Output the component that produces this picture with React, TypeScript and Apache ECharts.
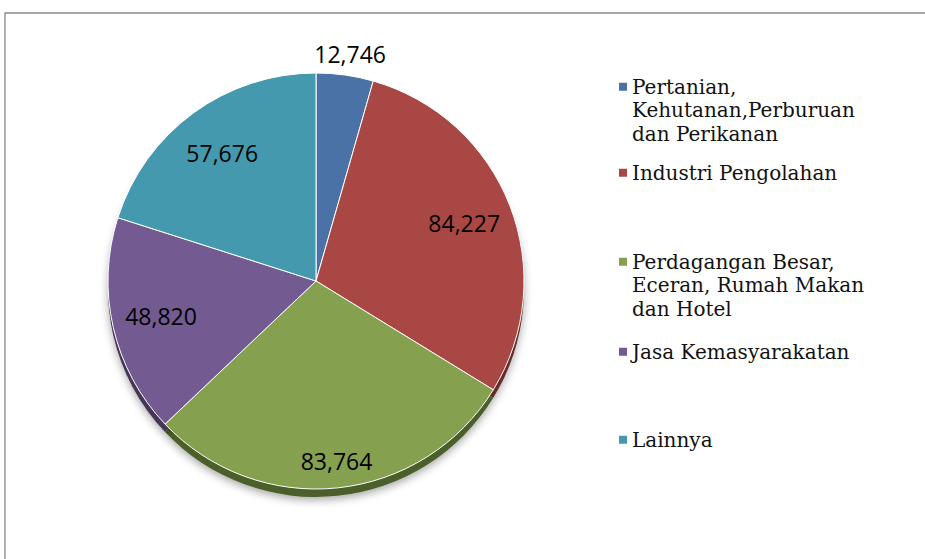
import React, { useEffect, useRef } from "react";
import * as echarts from "echarts";

const categories = [
  "Pertanian,\nKehutanan,Perburuan\ndan Perikanan",
  "Industri Pengolahan",
  "Perdagangan Besar,\nEceran, Rumah Makan\ndan Hotel",
  "Jasa Kemasyarakatan",
  "Lainnya",
];
const values = [12746, 84227, 83764, 48820, 57676];
const colors = ["#4a72a6", "#a94744", "#85a04e", "#735a91", "#4499ae"];
const edgeColors = ["#2c4566", "#682a28", "#4b5e2a", "#463657", "#295d6b"];
const legendTops = [28, 161, 203, 340, 428];

const CX = 316;
const CY = 281;
const R = 208;
const LH = 23.5;

export default function App() {
  const ref = useRef<HTMLDivElement>(null);
  useEffect(() => {
    if (!ref.current) return;
    const chart = echarts.init(ref.current, undefined, { renderer: "svg" });
    const fmt = (p: any) => Number(p.value).toLocaleString("en-US");
    const data = categories.map((name, i) => ({
      name,
      value: values[i],
      itemStyle: { color: colors[i] },
    }));
    const edgeData = categories.map((name, i) => ({
      name,
      value: values[i],
      itemStyle: { color: edgeColors[i] },
    }));
    chart.setOption({
      animation: false,
      backgroundColor: "#ffffff",
      graphic: [
        {
          type: "rect",
          z: -10,
          shape: { x: 5, y: 13, width: 960, height: 600 },
          style: { fill: "none", stroke: "#8a8a8a", lineWidth: 1.3 },
        },
      ],
      legend: categories.map((name, i) => ({
        data: [name],
        orient: "vertical",
        left: 619,
        top: legendTops[i],
        padding: 0,
        itemWidth: 8,
        itemHeight: 8,
        icon: "rect",
        selectedMode: false,
        itemStyle: { borderWidth: 0 },
        formatter: (n: string) => {
          const lines = n.split("\n").length;
          return "\n".repeat(lines - 1) + n;
        },
        textStyle: {
          fontFamily: "DejaVu Serif",
          fontSize: 20,
          lineHeight: LH,
          color: "#111",
        },
      })),
      series: [
        {
          type: "pie",
          name: "main",
          z: 3,
          center: [CX, CY],
          radius: [0, R],
          startAngle: 90,
          silent: true,
          label: { show: false },
          labelLine: { show: false },
          emphasis: { disabled: true },
          itemStyle: { borderColor: "#ffffff", borderWidth: 1 },
          data,
        },
        {
          type: "pie",
          name: "edge",
          z: 1,
          center: [CX, CY + 8],
          radius: [0, R],
          startAngle: 90,
          silent: true,
          label: { show: false },
          labelLine: { show: false },
          emphasis: { disabled: true },
          itemStyle: {
            borderWidth: 0,
            shadowBlur: 8,
            shadowColor: "rgba(0,0,0,0.35)",
            shadowOffsetY: 3,
          },
          data: edgeData,
        },
        {
          type: "pie",
          name: "labels",
          z: 5,
          center: [CX, CY],
          radius: [R / 2, R],
          startAngle: 90,
          silent: true,
          emphasis: { disabled: true },
          itemStyle: { color: "rgba(0,0,0,0)", borderWidth: 0 },
          labelLine: { show: false },
          label: {
            show: true,
            position: "inside",
            formatter: fmt,
            color: "#000",
            fontFamily: "Open Sans",
            fontSize: 23,
          },
          labelLayout: (p: any) => {
            if (p.dataIndex === 0) return { dx: 12, dy: -70 };
            if (p.dataIndex === 2) return { dx: 4, dy: 22 };
            return {};
          },
          data: categories.map((name, i) => ({ name, value: values[i] })),
        },
      ],
    });
    return () => chart.dispose();
  }, []);
  return (
    <div
      ref={ref}
      style={{ position: "fixed", left: 0, top: 0, width: 925, height: 559 }}
    />
  );
}
